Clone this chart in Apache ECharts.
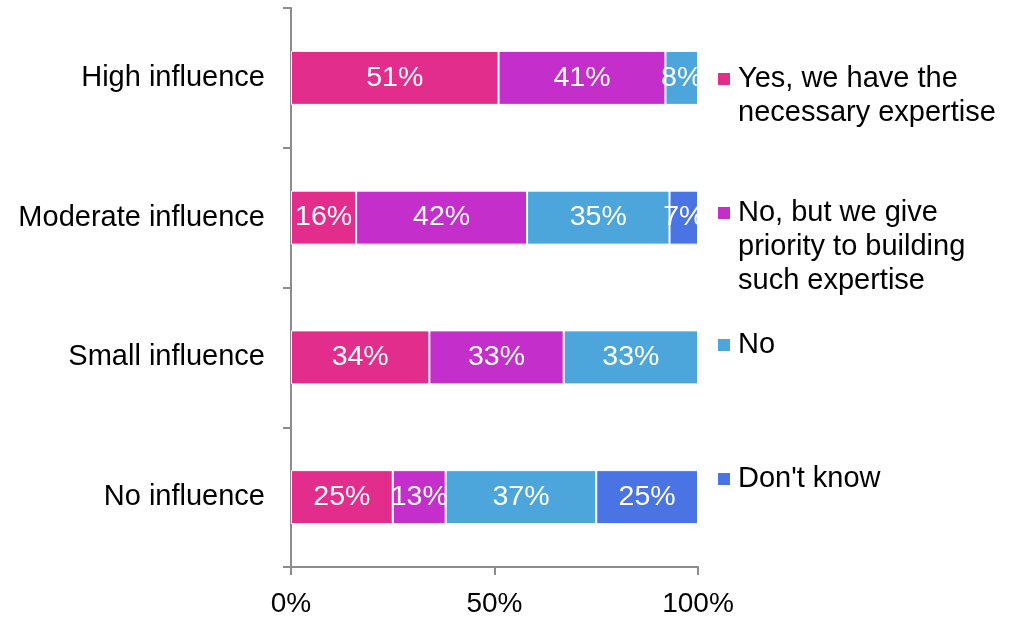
<!DOCTYPE html>
<html><head><meta charset="utf-8">
<script src="https://cdn.jsdelivr.net/npm/echarts@6/dist/echarts.min.js"></script>
<style>html,body{margin:0;padding:0;background:#fff}#c{width:1018px;height:618px}</style>
</head><body><div id="c"></div>
<script>
var categories = ['High influence', 'Moderate influence', 'Small influence', 'No influence'];
var seriesNames = ['Yes, we have the\nnecessary expertise', 'No, but we give\npriority to building\nsuch expertise', 'No', "Don't know"];
var yesValues = [51, 16, 34, 25];
var noButValues = [41, 42, 33, 13];
var noValues = [8, 35, 33, 37];
var dontKnowValues = [null, 7, null, 25];
var xTicks = [0, 50, 100];
var colors = ['#E32D8D', '#C42ECB', '#4DA6DB', '#4A73E3'];

var allValues = [yesValues, noButValues, noValues, dontKnowValues];
var font = 'Liberation Sans, Arial, sans-serif';
var chart = echarts.init(document.getElementById('c'));

var series = seriesNames.map(function (n, i) {
  return {
    name: n, type: 'bar', stack: 'total', barWidth: 54,
    data: allValues[i],
    itemStyle: { color: colors[i], borderColor: '#fff', borderWidth: 1 },
    label: { show: true, position: 'inside', color: '#fff', fontSize: 28.5, fontFamily: font,
      formatter: function (p) { return p.value == null ? '' : p.value + '%'; } },
    emphasis: { disabled: true }
  };
});

var lineH = 34;
var legendFirstLine = [79, 213, 345, 479];
var graphics = [];
seriesNames.forEach(function (n, i) {
  graphics.push({ type: 'rect', left: 718, top: legendFirstLine[i] - 6,
    shape: { width: 12, height: 12 }, style: { fill: colors[i] }, silent: true });
  graphics.push({ type: 'text', left: 738, top: legendFirstLine[i] - lineH / 2,
    style: { text: n, fontSize: 29, fontFamily: font, fill: '#000', lineHeight: lineH }, silent: true });
});

chart.setOption({
  animation: false,
  color: colors,
  grid: { left: 291, right: 320, top: 8, bottom: 49, containLabel: false },
  graphic: graphics,
  xAxis: {
    type: 'value', min: xTicks[0], max: xTicks[xTicks.length - 1], interval: 50,
    axisLine: { show: true, lineStyle: { color: '#8c8c8c', width: 2 } },
    axisTick: { show: true, length: 8, lineStyle: { color: '#8c8c8c', width: 2 } },
    splitLine: { show: false },
    axisLabel: { formatter: '{value}%', fontSize: 28, fontFamily: font, color: '#000', margin: 23 }
  },
  yAxis: {
    type: 'category', data: categories, inverse: true,
    axisLine: { show: true, lineStyle: { color: '#8c8c8c', width: 2 } },
    axisTick: { show: true, length: 8, lineStyle: { color: '#8c8c8c', width: 2 } },
    axisLabel: { fontSize: 29, fontFamily: font, color: '#000', margin: 26, padding: [3, 0, 0, 0] }
  },
  series: series
});
</script></body></html>
